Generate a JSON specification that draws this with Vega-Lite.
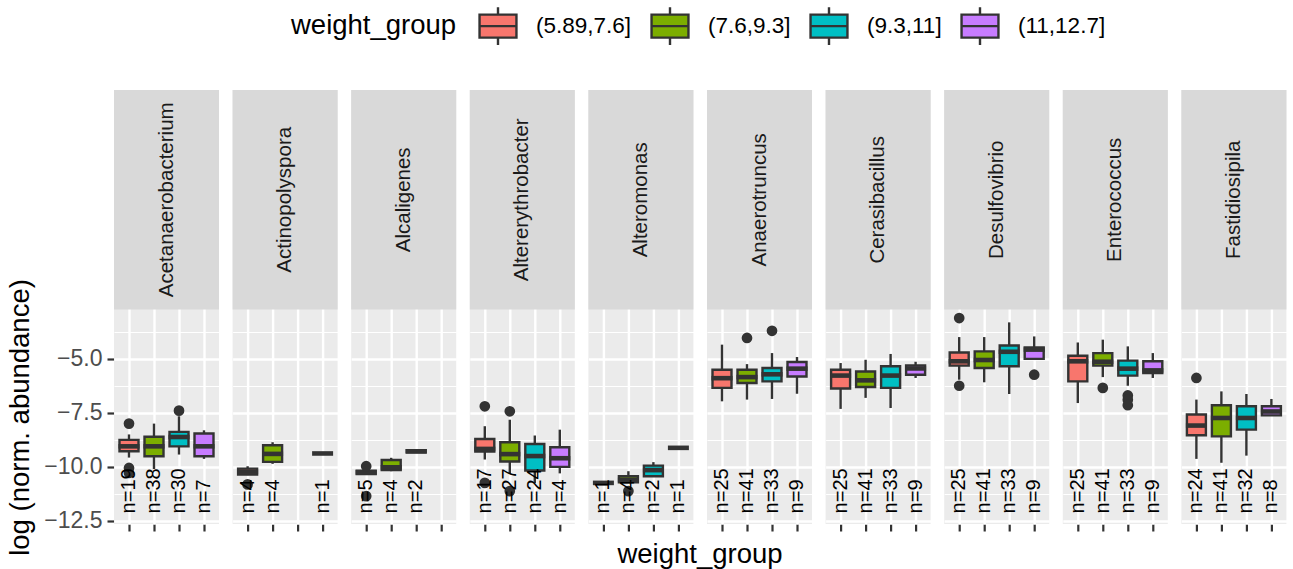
{
  "$schema": "https://vega.github.io/schema/vega-lite/v6.json",
  "autosize": {"type": "pad"},
  "padding": {"left": 6, "top": 2, "right": 5, "bottom": 1},
  "background": "white",
  "config": {
    "font": "Liberation Sans",
    "view": {"stroke": null},
    "axis": {"labelFont": "Liberation Sans", "titleFont": "Liberation Sans"},
    "legend": {"labelFont": "Liberation Sans", "titleFont": "Liberation Sans"},
    "header": {"titleFont": "Liberation Sans", "labelFont": "Liberation Sans"}
  },
  "data": {"values": [
    {"genus": "Acetanaerobacterium", "kind": "strip"},
    {"genus": "Actinopolyspora", "kind": "strip"},
    {"genus": "Alcaligenes", "kind": "strip"},
    {"genus": "Altererythrobacter", "kind": "strip"},
    {"genus": "Alteromonas", "kind": "strip"},
    {"genus": "Anaerotruncus", "kind": "strip"},
    {"genus": "Cerasibacillus", "kind": "strip"},
    {"genus": "Desulfovibrio", "kind": "strip"},
    {"genus": "Enterococcus", "kind": "strip"},
    {"genus": "Fastidiosipila", "kind": "strip"},

    {"genus": "Acetanaerobacterium", "group": "(5.89,7.6]", "kind": "box", "lo": -9.57, "q1": -9.28, "med": -9.05, "q3": -8.75, "hi": -8.5, "lab": "n=19"},
    {"genus": "Acetanaerobacterium", "group": "(7.6,9.3]", "kind": "box", "lo": -10.1, "q1": -9.51, "med": -9.05, "q3": -8.61, "hi": -8.0, "lab": "n=38"},
    {"genus": "Acetanaerobacterium", "group": "(9.3,11]", "kind": "box", "lo": -9.43, "q1": -9.05, "med": -8.62, "q3": -8.38, "hi": -7.66, "lab": "n=30"},
    {"genus": "Acetanaerobacterium", "group": "(11,12.7]", "kind": "box", "lo": -9.63, "q1": -9.51, "med": -9.05, "q3": -8.46, "hi": -8.31, "lab": "n=7"},
    {"genus": "Acetanaerobacterium", "group": "(5.89,7.6]", "kind": "out", "v": -8.0},
    {"genus": "Acetanaerobacterium", "group": "(5.89,7.6]", "kind": "out", "v": -10.05},
    {"genus": "Acetanaerobacterium", "group": "(5.89,7.6]", "kind": "out", "v": -10.28},
    {"genus": "Acetanaerobacterium", "group": "(9.3,11]", "kind": "out", "v": -7.4},

    {"genus": "Actinopolyspora", "group": "(5.89,7.6]", "kind": "box", "lo": -10.38, "q1": -10.35, "med": -10.22, "q3": -10.08, "hi": -9.97, "lab": "n=4"},
    {"genus": "Actinopolyspora", "group": "(7.6,9.3]", "kind": "box", "lo": -9.86, "q1": -9.77, "med": -9.4, "q3": -9.0, "hi": -8.86, "lab": "n=4"},
    {"genus": "Actinopolyspora", "group": "(11,12.7]", "kind": "box", "lo": -9.38, "q1": -9.38, "med": -9.38, "q3": -9.38, "hi": -9.38, "lab": "n=1"},
    {"genus": "Actinopolyspora", "group": "(5.89,7.6]", "kind": "out", "v": -10.81},

    {"genus": "Alcaligenes", "group": "(5.89,7.6]", "kind": "box", "lo": -10.35, "q1": -10.33, "med": -10.25, "q3": -10.18, "hi": -10.15, "lab": "n=5"},
    {"genus": "Alcaligenes", "group": "(7.6,9.3]", "kind": "box", "lo": -10.2, "q1": -10.15, "med": -10.02, "q3": -9.68, "hi": -9.58, "lab": "n=4"},
    {"genus": "Alcaligenes", "group": "(9.3,11]", "kind": "box", "lo": -9.35, "q1": -9.33, "med": -9.28, "q3": -9.23, "hi": -9.2, "lab": "n=2"},
    {"genus": "Alcaligenes", "group": "(5.89,7.6]", "kind": "out", "v": -9.97},
    {"genus": "Alcaligenes", "group": "(5.89,7.6]", "kind": "out", "v": -11.35},

    {"genus": "Altererythrobacter", "group": "(5.89,7.6]", "kind": "box", "lo": -9.66, "q1": -9.29, "med": -9.17, "q3": -8.71, "hi": -8.12, "lab": "n=17"},
    {"genus": "Altererythrobacter", "group": "(7.6,9.3]", "kind": "box", "lo": -10.3, "q1": -9.75, "med": -9.41, "q3": -8.86, "hi": -7.82, "lab": "n=27"},
    {"genus": "Altererythrobacter", "group": "(9.3,11]", "kind": "box", "lo": -10.75, "q1": -10.17, "med": -9.5, "q3": -8.94, "hi": -8.55, "lab": "n=24"},
    {"genus": "Altererythrobacter", "group": "(11,12.7]", "kind": "box", "lo": -10.3, "q1": -10.0, "med": -9.6, "q3": -9.09, "hi": -8.28, "lab": "n=4"},
    {"genus": "Altererythrobacter", "group": "(5.89,7.6]", "kind": "out", "v": -7.2},
    {"genus": "Altererythrobacter", "group": "(5.89,7.6]", "kind": "out", "v": -10.74},
    {"genus": "Altererythrobacter", "group": "(7.6,9.3]", "kind": "out", "v": -7.43},
    {"genus": "Altererythrobacter", "group": "(7.6,9.3]", "kind": "out", "v": -11.12},

    {"genus": "Alteromonas", "group": "(5.89,7.6]", "kind": "box", "lo": -10.74, "q1": -10.74, "med": -10.74, "q3": -10.74, "hi": -10.74, "lab": "n=1"},
    {"genus": "Alteromonas", "group": "(7.6,9.3]", "kind": "box", "lo": -10.71, "q1": -10.71, "med": -10.6, "q3": -10.43, "hi": -10.2, "lab": "n=4"},
    {"genus": "Alteromonas", "group": "(9.3,11]", "kind": "box", "lo": -10.43, "q1": -10.43, "med": -10.15, "q3": -9.94, "hi": -9.78, "lab": "n=2"},
    {"genus": "Alteromonas", "group": "(11,12.7]", "kind": "box", "lo": -9.12, "q1": -9.12, "med": -9.12, "q3": -9.12, "hi": -9.12, "lab": "n=1"},
    {"genus": "Alteromonas", "group": "(7.6,9.3]", "kind": "out", "v": -11.12},

    {"genus": "Anaerotruncus", "group": "(5.89,7.6]", "kind": "box", "lo": -6.97, "q1": -6.35, "med": -5.9, "q3": -5.51, "hi": -4.35, "lab": "n=25"},
    {"genus": "Anaerotruncus", "group": "(7.6,9.3]", "kind": "box", "lo": -6.89, "q1": -6.12, "med": -5.85, "q3": -5.51, "hi": -5.25, "lab": "n=41"},
    {"genus": "Anaerotruncus", "group": "(9.3,11]", "kind": "box", "lo": -6.86, "q1": -6.05, "med": -5.72, "q3": -5.43, "hi": -4.74, "lab": "n=33"},
    {"genus": "Anaerotruncus", "group": "(11,12.7]", "kind": "box", "lo": -6.62, "q1": -5.82, "med": -5.46, "q3": -5.15, "hi": -4.92, "lab": "n=9"},
    {"genus": "Anaerotruncus", "group": "(7.6,9.3]", "kind": "out", "v": -4.04},
    {"genus": "Anaerotruncus", "group": "(9.3,11]", "kind": "out", "v": -3.71},

    {"genus": "Cerasibacillus", "group": "(5.89,7.6]", "kind": "box", "lo": -7.32, "q1": -6.38, "med": -5.78, "q3": -5.51, "hi": -5.2, "lab": "n=25"},
    {"genus": "Cerasibacillus", "group": "(7.6,9.3]", "kind": "box", "lo": -6.81, "q1": -6.31, "med": -6.0, "q3": -5.59, "hi": -5.05, "lab": "n=41"},
    {"genus": "Cerasibacillus", "group": "(9.3,11]", "kind": "box", "lo": -7.28, "q1": -6.35, "med": -5.78, "q3": -5.35, "hi": -4.78, "lab": "n=33"},
    {"genus": "Cerasibacillus", "group": "(11,12.7]", "kind": "box", "lo": -5.89, "q1": -5.74, "med": -5.45, "q3": -5.31, "hi": -5.14, "lab": "n=9"},

    {"genus": "Desulfovibrio", "group": "(5.89,7.6]", "kind": "box", "lo": -5.97, "q1": -5.32, "med": -5.12, "q3": -4.71, "hi": -4.0, "lab": "n=25"},
    {"genus": "Desulfovibrio", "group": "(7.6,9.3]", "kind": "box", "lo": -6.09, "q1": -5.43, "med": -5.06, "q3": -4.66, "hi": -4.0, "lab": "n=41"},
    {"genus": "Desulfovibrio", "group": "(9.3,11]", "kind": "box", "lo": -6.63, "q1": -5.35, "med": -4.68, "q3": -4.39, "hi": -3.32, "lab": "n=33"},
    {"genus": "Desulfovibrio", "group": "(11,12.7]", "kind": "box", "lo": -5.01, "q1": -5.01, "med": -4.58, "q3": -4.48, "hi": -3.97, "lab": "n=9"},
    {"genus": "Desulfovibrio", "group": "(5.89,7.6]", "kind": "out", "v": -3.12},
    {"genus": "Desulfovibrio", "group": "(5.89,7.6]", "kind": "out", "v": -6.25},
    {"genus": "Desulfovibrio", "group": "(11,12.7]", "kind": "out", "v": -5.74},

    {"genus": "Enterococcus", "group": "(5.89,7.6]", "kind": "box", "lo": -7.05, "q1": -6.05, "med": -5.12, "q3": -4.86, "hi": -4.25, "lab": "n=25"},
    {"genus": "Enterococcus", "group": "(7.6,9.3]", "kind": "box", "lo": -5.85, "q1": -5.32, "med": -5.14, "q3": -4.74, "hi": -4.12, "lab": "n=41"},
    {"genus": "Enterococcus", "group": "(9.3,11]", "kind": "box", "lo": -6.25, "q1": -5.78, "med": -5.46, "q3": -5.09, "hi": -4.43, "lab": "n=33"},
    {"genus": "Enterococcus", "group": "(11,12.7]", "kind": "box", "lo": -5.89, "q1": -5.66, "med": -5.54, "q3": -5.12, "hi": -4.74, "lab": "n=9"},
    {"genus": "Enterococcus", "group": "(7.6,9.3]", "kind": "out", "v": -6.35},
    {"genus": "Enterococcus", "group": "(9.3,11]", "kind": "out", "v": -6.7},
    {"genus": "Enterococcus", "group": "(9.3,11]", "kind": "out", "v": -6.9},
    {"genus": "Enterococcus", "group": "(9.3,11]", "kind": "out", "v": -7.15},

    {"genus": "Fastidiosipila", "group": "(5.89,7.6]", "kind": "box", "lo": -9.63, "q1": -8.54, "med": -8.09, "q3": -7.58, "hi": -6.89, "lab": "n=24"},
    {"genus": "Fastidiosipila", "group": "(7.6,9.3]", "kind": "box", "lo": -9.81, "q1": -8.59, "med": -7.74, "q3": -7.15, "hi": -6.51, "lab": "n=41"},
    {"genus": "Fastidiosipila", "group": "(9.3,11]", "kind": "box", "lo": -9.48, "q1": -8.28, "med": -7.74, "q3": -7.2, "hi": -6.63, "lab": "n=32"},
    {"genus": "Fastidiosipila", "group": "(11,12.7]", "kind": "box", "lo": -7.62, "q1": -7.62, "med": -7.44, "q3": -7.2, "hi": -6.86, "lab": "n=8"},
    {"genus": "Fastidiosipila", "group": "(5.89,7.6]", "kind": "out", "v": -5.89}
  ]},
  "facet": {"column": {"field": "genus", "type": "nominal", "header": {"labels": false, "title": "weight_group", "titleOrient": "bottom", "titleFontSize": 27.5, "titleFontWeight": "normal", "titleColor": "#000000", "titlePadding": -2}}},
  "spacing": 13.6,
  "spec": {
    "width": 105,
    "height": 434,
    "view": {"fill": "#EBEBEB", "stroke": null},
    "layer": [
      {
        "transform": [{"filter": "datum.kind == 'strip'"}],
        "mark": {"type": "rect", "color": "#D9D9D9"},
        "encoding": {
          "y": {
            "datum": -2.73, "type": "quantitative", "title": "log (norm. abundance)",
            "scale": {"domain": [-12.64, 7.42], "nice": false, "zero": false},
            "axis": {
              "values": [-3.75, -5, -6.25, -7.5, -8.75, -10, -11.25, -12.5],
              "labelExpr": "abs(datum.value % 2.5) < 0.01 ? replace(format(datum.value, '.1f'), '-', '\u2212') : ''",
              "labelOverlap": false,
              "labelFontSize": 23, "labelColor": "#4D4D4D", "labelPadding": 5,
              "domain": false, "tickColor": "#333333", "tickWidth": 2.2,
              "tickSize": {"condition": {"test": "abs(datum.value % 2.5) > 0.01", "value": 0}, "value": 7},
              "grid": true, "gridColor": "#FFFFFF",
              "gridWidth": {"condition": {"test": "abs(datum.value % 2.5) > 0.01", "value": 1.2}, "value": 2.4},
              "titleFontSize": 27.5, "titleFontWeight": "normal", "titleColor": "#000000", "titlePadding": 9,
              "titleY": 327
            }
          },
          "y2": {"datum": 7.42}
        }
      },
      {
        "transform": [{"filter": "datum.kind == 'strip'"}],
        "mark": {"type": "text", "angle": 270, "fontSize": 20.5, "color": "#1A1A1A", "align": "center", "baseline": "middle"},
        "encoding": {
          "y": {"datum": 2.345, "type": "quantitative", "title": "log (norm. abundance)"},
          "text": {"field": "genus", "type": "nominal"}
        }
      },
      {
        "transform": [{"filter": "datum.kind == 'box'"}],
        "mark": {"type": "rule", "color": "#333333", "strokeWidth": 2.4},
        "encoding": {
          "x": {
            "field": "group", "type": "nominal", "title": null,
            "scale": {"type": "point", "padding": 0.6, "domain": ["(5.89,7.6]", "(7.6,9.3]", "(9.3,11]", "(11,12.7]"]},
            "axis": {
              "labels": false, "domain": false, "ticks": true, "tickSize": 7, "tickWidth": 2.2, "tickColor": "#333333",
              "grid": true, "gridColor": "#FFFFFF", "gridWidth": 2.4
            }
          },
          "y": {"field": "lo", "type": "quantitative", "title": "log (norm. abundance)"},
          "y2": {"field": "hi"}
        }
      },
      {
        "transform": [{"filter": "datum.kind == 'box'"}],
        "mark": {"type": "bar", "size": 19, "stroke": "#333333", "strokeWidth": 2.4},
        "encoding": {
          "x": {"field": "group", "type": "nominal", "title": null},
          "y": {"field": "q1", "type": "quantitative", "title": "log (norm. abundance)"},
          "y2": {"field": "q3"},
          "fill": {
            "field": "group", "type": "nominal",
            "scale": {"domain": ["(5.89,7.6]", "(7.6,9.3]", "(9.3,11]", "(11,12.7]"], "range": ["#F8766D", "#7CAE00", "#00BFC4", "#C77CFF"]},
            "legend": {
              "orient": "none", "legendX": 177, "legendY": -88, "direction": "horizontal",
              "title": "weight_group", "titleOrient": "left", "titleFontSize": 27.5, "titleFontWeight": "normal",
              "titleColor": "#000000", "titlePadding": 17, "titleBaseline": "middle", "titleAnchor": "middle",
              "labelFontSize": 22.5, "labelColor": "#000000", "labelOffset": 14, "columnPadding": 14, "padding": 0,
              "symbolType": "M-0.82,-0.51H0.82V0.51H-0.82Z M-0.82,0H0.82 M0,-0.51V-0.84 M0,0.51V0.84",
              "symbolSize": 2025, "symbolStrokeColor": "#333333", "symbolStrokeWidth": 2.4, "symbolOpacity": 1
            }
          }
        }
      },
      {
        "transform": [{"filter": "datum.kind == 'box'"}],
        "mark": {"type": "tick", "size": 21, "thickness": 4.6, "color": "#333333", "opacity": 1},
        "encoding": {
          "x": {"field": "group", "type": "nominal", "title": null},
          "y": {"field": "med", "type": "quantitative", "title": "log (norm. abundance)"}
        }
      },
      {
        "transform": [{"filter": "datum.kind == 'out'"}],
        "mark": {"type": "point", "shape": "circle", "filled": true, "size": 115, "color": "#333333", "opacity": 1},
        "encoding": {
          "x": {"field": "group", "type": "nominal", "title": null},
          "y": {"field": "v", "type": "quantitative", "title": "log (norm. abundance)"}
        }
      },
      {
        "transform": [{"filter": "datum.kind == 'box'"}],
        "mark": {"type": "text", "angle": 270, "align": "left", "baseline": "middle", "fontSize": 20, "color": "#000000"},
        "encoding": {
          "x": {"field": "group", "type": "nominal", "title": null},
          "y": {"datum": -12.15, "type": "quantitative", "title": "log (norm. abundance)"},
          "text": {"field": "lab", "type": "nominal"}
        }
      }
    ]
  }
}
